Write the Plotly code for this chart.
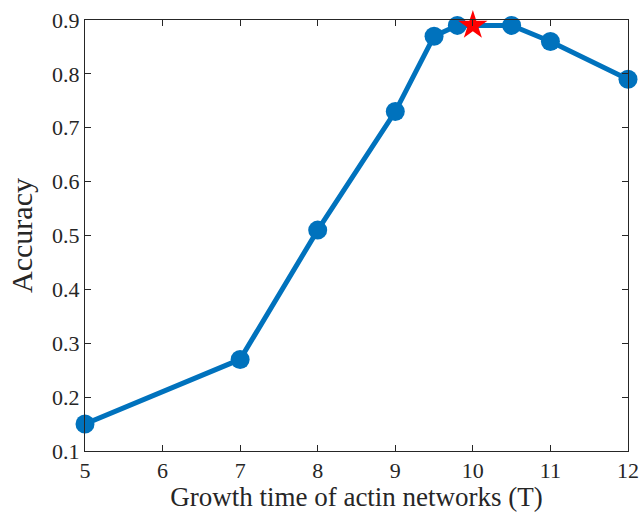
import plotly.graph_objects as go

growth_time = [5, 7, 8, 9, 9.5, 9.8, 10.5, 11, 12]
accuracy = [0.15, 0.27, 0.51, 0.73, 0.87, 0.89, 0.89, 0.86, 0.79]
best_time = [10]
best_accuracy = [0.89]

x_ticks = [5, 6, 7, 8, 9, 10, 11, 12]
y_ticks = [0.1, 0.2, 0.3, 0.4, 0.5, 0.6, 0.7, 0.8, 0.9]

fig = go.Figure()
fig.add_trace(go.Scatter(
    x=growth_time, y=accuracy, mode="lines+markers",
    line=dict(color="#0072BD", width=5),
    marker=dict(color="#0072BD", size=19),
    showlegend=False, cliponaxis=False,
))
fig.add_trace(go.Scatter(
    x=best_time, y=best_accuracy, mode="markers",
    marker=dict(color="#FF0000", symbol="star", size=22, line=dict(width=0)),
    showlegend=False, cliponaxis=False,
))

font_family = "Liberation Serif, DejaVu Serif, serif"
axis_common = dict(
    showgrid=False, zeroline=False, showline=True, linecolor="#262626",
    linewidth=1, mirror="ticks", ticks="inside", ticklen=6, tickcolor="#262626",
    tickfont=dict(family=font_family, size=22, color="#262626"),
    automargin=False,
)
fig.update_xaxes(range=[5, 12], tickvals=x_ticks,
                 title=dict(text="Growth time of actin networks (T)",
                            font=dict(family=font_family, size=27, color="#262626"),
                            standoff=2),
                 **axis_common)
fig.update_yaxes(range=[0.1, 0.9], tickvals=y_ticks,
                 ticktext=[f"{v:.1f}" for v in y_ticks],
                 title=dict(text="Accuracy",
                            font=dict(family=font_family, size=30, color="#262626"),
                            standoff=10),
                 **axis_common)
fig.update_layout(
    width=643, height=512,
    margin=dict(l=85, r=15, t=20, b=61),
    plot_bgcolor="white", paper_bgcolor="white",
)
fig.write_html("out.html",
               config={"displayModeBar": False},
               post_script="document.body.style.margin='0';document.body.style.overflow='hidden';")
